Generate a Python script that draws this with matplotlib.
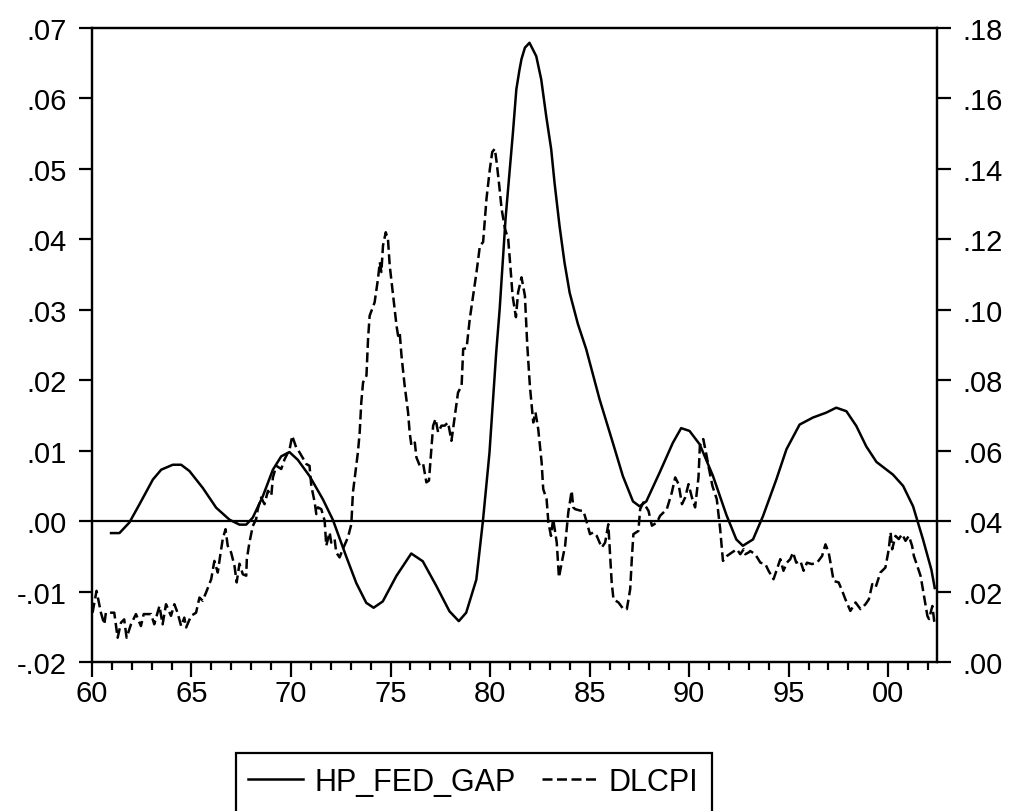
import matplotlib
matplotlib.use("Agg")
import matplotlib.pyplot as plt
from matplotlib.ticker import FuncFormatter, MultipleLocator
from matplotlib.lines import Line2D
from matplotlib.patches import Rectangle

plt.rcParams['font.family'] = ['Liberation Sans', 'DejaVu Sans']

# HP_FED_GAP (left axis), years as offsets from 1900
gap_year = [60.96, 61.38, 61.88, 62.39, 63.06, 63.48, 64.06, 64.48, 64.90, 65.57,
            66.24, 66.91, 67.41, 67.75, 68.08, 68.58, 69.09, 69.51, 69.92, 70.34,
            70.93, 71.60, 72.10, 72.77, 73.28, 73.78, 74.15, 74.61, 75.29, 76.04,
            76.62, 77.30, 77.96, 78.43, 78.80, 79.31, 79.64, 79.97, 80.31, 80.48,
            80.78, 81.15, 81.32, 81.48, 81.58, 81.75, 81.98, 82.32, 82.57, 82.82,
            83.07, 83.24, 83.49, 83.74, 84.00, 84.41, 84.83, 85.50, 86.17, 86.67,
            87.18, 87.51, 87.85, 88.52, 89.18, 89.60, 90.02, 90.53, 91.20, 91.87,
            92.37, 92.70, 93.21, 93.71, 94.38, 94.89, 95.55, 96.22, 96.89, 97.39,
            97.90, 98.40, 98.90, 99.41, 100.24, 100.75, 101.25, 101.75, 102.17, 102.34]
gap_val = [-0.0017, -0.0017, -0.0002, 0.0024, 0.0059, 0.0073, 0.0080, 0.0080, 0.0071, 0.0047,
           0.0019, 0.0002, -0.0005, -0.0005, 0.0005, 0.0035, 0.0073, 0.0092, 0.0098, 0.0087,
           0.0064, 0.0031, 0.0002, -0.0050, -0.0088, -0.0116, -0.0123, -0.0114, -0.0078, -0.0046,
           -0.0057, -0.0092, -0.0128, -0.0142, -0.0130, -0.0083, 0.0000, 0.0097, 0.0240, 0.0300,
           0.0430, 0.0552, 0.0613, 0.0641, 0.0656, 0.0672, 0.0679, 0.0660, 0.0627, 0.0575,
           0.0528, 0.0480, 0.0419, 0.0367, 0.0324, 0.0280, 0.0244, 0.0173, 0.0111, 0.0064,
           0.0028, 0.0021, 0.0028, 0.0069, 0.0111, 0.0132, 0.0128, 0.0109, 0.0064, 0.0009,
           -0.0026, -0.0035, -0.0026, 0.0007, 0.0059, 0.0102, 0.0137, 0.0147, 0.0154, 0.0161,
           0.0156, 0.0135, 0.0106, 0.0084, 0.0066, 0.0050, 0.0021, -0.0026, -0.0069, -0.0095]

# DLCPI (right axis)
cpi_year = [60.03, 60.23, 60.45, 60.62, 60.70, 61.12, 61.29, 61.46, 61.62, 61.74,
            61.96, 62.21, 62.46, 62.60, 62.97, 63.13, 63.39, 63.55, 63.72, 63.97,
            64.14, 64.30, 64.48, 64.64, 64.73, 64.98, 65.23, 65.40, 65.56, 65.73,
            65.99, 66.15, 66.32, 66.44, 66.57, 66.71, 66.82, 66.99, 67.16, 67.27,
            67.41, 67.58, 67.75, 67.78, 67.91, 68.08, 68.25, 68.33, 68.50, 68.67,
            68.84, 69.01, 69.09, 69.26, 69.51, 69.68, 69.93, 70.06, 70.26, 70.43,
            70.77, 70.93, 71.02, 71.19, 71.27, 71.35, 71.52, 71.69, 71.77, 71.94,
            72.02, 72.19, 72.27, 72.44, 72.60, 72.86, 73.03, 73.11, 73.28, 73.36,
            73.45, 73.53, 73.62, 73.79, 73.87, 73.95, 74.20, 74.37, 74.46, 74.54,
            74.62, 74.76, 74.87, 74.96, 75.13, 75.30, 75.38, 75.46, 75.55, 75.71,
            75.88, 75.96, 76.05, 76.22, 76.30, 76.47, 76.64, 76.80, 76.93, 77.06,
            77.14, 77.26, 77.39, 77.56, 77.72, 77.89, 78.06, 78.23, 78.39, 78.57,
            78.65, 78.82, 78.98, 79.15, 79.32, 79.49, 79.65, 79.82, 79.99, 80.11,
            80.24, 80.33, 80.46, 80.58, 80.75, 80.91, 81.03, 81.13, 81.30, 81.41,
            81.58, 81.75, 81.87, 82.00, 82.17, 82.28, 82.42, 82.59, 82.67, 82.84,
            82.93, 83.06, 83.17, 83.35, 83.46, 83.60, 83.77, 83.93, 84.10, 84.18,
            84.27, 84.52, 84.69, 84.86, 85.02, 85.19, 85.36, 85.61, 85.78, 85.94,
            86.11, 86.20, 86.45, 86.70, 86.87, 87.04, 87.12, 87.20, 87.45, 87.54,
            87.70, 87.96, 88.13, 88.38, 88.54, 88.88, 89.13, 89.30, 89.47, 89.64,
            89.80, 89.97, 90.14, 90.30, 90.47, 90.54, 90.71, 90.88, 91.00, 91.17,
            91.39, 91.56, 91.70, 91.90, 92.15, 92.40, 92.57, 92.74, 92.82, 92.99,
            93.07, 93.32, 93.58, 93.83, 93.99, 94.24, 94.41, 94.58, 94.74, 94.91,
            95.08, 95.22, 95.38, 95.59, 95.75, 95.92, 96.17, 96.43, 96.68, 96.85,
            97.01, 97.13, 97.26, 97.51, 97.69, 97.85, 98.10, 98.36, 98.61, 98.86,
            99.03, 99.20, 99.37, 99.61, 99.86, 100.03, 100.12, 100.20, 100.37, 100.53,
            100.70, 100.87, 101.04, 101.20, 101.29, 101.46, 101.63, 101.80, 101.97, 102.05,
            102.22, 102.31, 102.39]
cpi_val = [0.0140, 0.0202, 0.0140, 0.0107, 0.0140, 0.0140, 0.0069, 0.0112, 0.0121, 0.0069,
           0.0107, 0.0136, 0.0102, 0.0136, 0.0136, 0.0107, 0.0159, 0.0107, 0.0164, 0.0131,
           0.0164, 0.0140, 0.0102, 0.0126, 0.0098, 0.0131, 0.0140, 0.0183, 0.0174, 0.0197,
           0.0235, 0.0287, 0.0254, 0.0301, 0.0349, 0.0377, 0.0330, 0.0311, 0.0273, 0.0226,
           0.0279, 0.0249, 0.0245, 0.0292, 0.0339, 0.0386, 0.0406, 0.0434, 0.0467, 0.0448,
           0.0486, 0.0472, 0.0524, 0.0557, 0.0548, 0.0576, 0.0604, 0.0642, 0.0609, 0.0595,
           0.0562, 0.0557, 0.0500, 0.0453, 0.0420, 0.0439, 0.0434, 0.0401, 0.0330, 0.0368,
           0.0339, 0.0349, 0.0311, 0.0297, 0.0320, 0.0354, 0.0391, 0.0481, 0.0557, 0.0595,
           0.0652, 0.0737, 0.0794, 0.0813, 0.0917, 0.0983, 0.1021, 0.1088, 0.1135, 0.1107,
           0.1182, 0.1220, 0.1201, 0.1125, 0.1040, 0.0955, 0.0926, 0.0935, 0.0870, 0.0784,
           0.0709, 0.0652, 0.0614, 0.0623, 0.0581, 0.0557, 0.0562, 0.0510, 0.0515, 0.0614,
           0.0671, 0.0690, 0.0652, 0.0671, 0.0671, 0.0680, 0.0628, 0.0699, 0.0765, 0.0784,
           0.0889, 0.0891, 0.0974, 0.1040, 0.1107, 0.1182, 0.1192, 0.1315, 0.1400, 0.1448,
           0.1457, 0.1419, 0.1353, 0.1286, 0.1230, 0.1201, 0.1116, 0.1040, 0.0979, 0.1050,
           0.1092, 0.1040, 0.0898, 0.0784, 0.0680, 0.0709, 0.0661, 0.0567, 0.0491, 0.0462,
           0.0396, 0.0358, 0.0406, 0.0339, 0.0240, 0.0282, 0.0330, 0.0425, 0.0486, 0.0439,
           0.0434, 0.0430, 0.0429, 0.0396, 0.0363, 0.0368, 0.0358, 0.0325, 0.0339, 0.0391,
           0.0226, 0.0178, 0.0169, 0.0150, 0.0150, 0.0207, 0.0292, 0.0363, 0.0372, 0.0434,
           0.0453, 0.0429, 0.0387, 0.0396, 0.0415, 0.0434, 0.0481, 0.0524, 0.0505, 0.0448,
           0.0467, 0.0505, 0.0467, 0.0439, 0.0524, 0.0614, 0.0633, 0.0585, 0.0548, 0.0500,
           0.0462, 0.0377, 0.0287, 0.0301, 0.0311, 0.0320, 0.0306, 0.0320, 0.0306, 0.0311,
           0.0315, 0.0306, 0.0282, 0.0278, 0.0259, 0.0235, 0.0263, 0.0292, 0.0259, 0.0282,
           0.0292, 0.0311, 0.0282, 0.0287, 0.0259, 0.0282, 0.0278, 0.0282, 0.0301, 0.0334,
           0.0311, 0.0273, 0.0230, 0.0226, 0.0202, 0.0178, 0.0145, 0.0169, 0.0150, 0.0164,
           0.0178, 0.0221, 0.0212, 0.0254, 0.0268, 0.0320, 0.0368, 0.0320, 0.0358, 0.0349,
           0.0363, 0.0344, 0.0358, 0.0330, 0.0301, 0.0273, 0.0244, 0.0188, 0.0131, 0.0122,
           0.0159, 0.0117, 0.0102]

gap_x = [1900 + y for y in gap_year]
cpi_x = [1900 + y for y in cpi_year]


def dot_fmt(v, pos):
    s = "%.2f" % v
    if s.startswith("-0."):
        return "-" + s[2:]
    if s.startswith("0."):
        return s[1:]
    return s


fig = plt.figure(figsize=(10.15, 8.12), dpi=100)
ax = fig.add_axes([0.0906, 0.1835, 0.8325, 0.7808])
ax2 = ax.twinx()

lw = 1.8
dash = (0, (4.0, 1.8))
ax.axhline(0, color="black", lw=1.6)
ax.plot(gap_x, gap_val, color="black", lw=lw)
ax2.plot(cpi_x, cpi_val, color="black", lw=lw, linestyle=dash)

ax.set_xlim(1960, 2002.45)
ax.set_ylim(-0.02, 0.07)
ax2.set_ylim(0.0, 0.18)

ax.xaxis.set_major_locator(MultipleLocator(5))
ax.xaxis.set_minor_locator(MultipleLocator(1))
ax.xaxis.set_major_formatter(FuncFormatter(lambda v, p: "%02d" % (int(round(v)) % 100)))
ax.yaxis.set_major_locator(MultipleLocator(0.01))
ax2.yaxis.set_major_locator(MultipleLocator(0.02))
ax.yaxis.set_major_formatter(FuncFormatter(dot_fmt))
ax2.yaxis.set_major_formatter(FuncFormatter(dot_fmt))

for a in (ax, ax2):
    for sp in a.spines.values():
        sp.set_linewidth(1.6)
ax.tick_params(axis="x", which="major", direction="out", length=10.5, width=1.6, pad=2, labelsize=21)
ax.tick_params(axis="x", which="minor", direction="out", length=6, width=1.6)
ax.tick_params(axis="y", direction="out", length=9.5, width=1.6, pad=9, labelsize=21)
ax2.tick_params(axis="y", direction="out", length=10, width=1.6, pad=8, labelsize=21)

# legend box runs off the bottom edge, as in the original
fig.add_artist(Rectangle((236 / 1015, -0.02), (712 - 236) / 1015, 0.02 + 58 / 812,
                         transform=fig.transFigure, fill=False, edgecolor="black", lw=1.6))
handles = [Line2D([], [], color="black", lw=lw),
           Line2D([], [], color="black", lw=lw, linestyle=dash)]
fig.legend(handles, ["HP_FED_GAP", "DLCPI"], loc="center left",
           bbox_to_anchor=(248 / 1015, 1 - 783 / 812), ncol=2, fontsize=22,
           frameon=False, borderpad=0, borderaxespad=0, handlelength=1.8,
           handletextpad=0.38, columnspacing=0.85)

fig.savefig("out.png", dpi=100)
